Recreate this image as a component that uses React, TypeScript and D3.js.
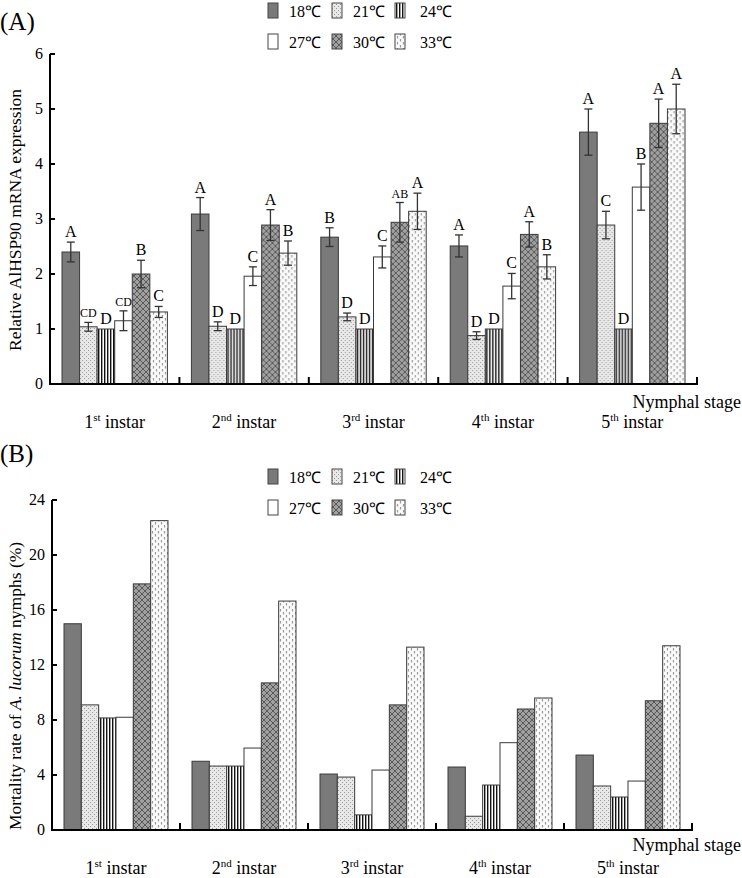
import React from 'react'
import * as d3 from 'd3'

const stages = ['1', '2', '3', '4', '5']
const stageSup = ['st', 'nd', 'rd', 'th', 'th']
const temps = ['18℃', '21℃', '24℃', '27℃', '30℃', '33℃']

// Panel A: relative expression, one row per stage, columns in temp order
const exprMean = [
  [2.4, 1.04, 1.0, 1.15, 2.0, 1.31],
  [3.09, 1.05, 1.0, 1.96, 2.89, 2.38],
  [2.67, 1.22, 1.0, 2.31, 2.94, 3.14],
  [2.51, 0.88, 1.0, 1.78, 2.72, 2.13],
  [4.58, 2.89, 1.0, 3.58, 4.74, 5.0],
]
const exprErr = [
  [0.18, 0.08, 0, 0.18, 0.25, 0.1],
  [0.3, 0.08, 0, 0.17, 0.28, 0.22],
  [0.17, 0.07, 0, 0.2, 0.36, 0.33],
  [0.2, 0.07, 0, 0.23, 0.23, 0.22],
  [0.42, 0.25, 0, 0.42, 0.44, 0.45],
]
const exprLetters = [
  ['A', 'CD', 'D', 'CD', 'B', 'C'],
  ['A', 'D', 'D', 'C', 'A', 'B'],
  ['B', 'D', 'D', 'C', 'AB', 'A'],
  ['A', 'D', 'D', 'C', 'A', 'B'],
  ['A', 'C', 'D', 'B', 'A', 'A'],
]

// Panel B: mortality rate (%)
const mortality = [
  [15.0, 9.1, 8.15, 8.2, 17.9, 22.5],
  [5.0, 4.65, 4.65, 5.96, 10.7, 16.65],
  [4.07, 3.85, 1.1, 4.36, 9.1, 13.3],
  [4.58, 1.0, 3.27, 6.35, 8.8, 9.6],
  [5.45, 3.2, 2.4, 3.56, 9.4, 13.4],
]

const ticksA = [0, 1, 2, 3, 4, 5, 6]
const ticksB = [0, 4, 8, 12, 16, 20, 24]

const fills = ['#7a7a7a', 'url(#p21)', 'url(#p24)', '#ffffff', 'url(#p30)', 'url(#p33)']
const serif = '"Liberation Serif", "Times New Roman", Times, serif'

function Legend({ top }: { top: number }) {
  const xs = [268, 332, 395]
  const tx = [289, 353, 420]
  return (
    <g>
      {temps.map((t, i) => {
        const row = Math.floor(i / 3)
        const col = i % 3
        const y = top + row * 31
        return (
          <g key={t}>
            <rect x={xs[col]} y={y} width={10} height={15} fill={fills[i]} stroke="#444" strokeWidth={1} />
            <text x={tx[col]} y={y + 14} fontSize={16}>{t}</text>
          </g>
        )
      })}
    </g>
  )
}

function Panel(props: {
  values: number[][]
  errs?: number[][]
  letters?: string[][]
  ticks: number[]
  x0: number
  x1: number
  yBase: number
  yTop: number
  label: React.ReactNode
  labelY: number
  xLabelY: number
  stageY: number
}) {
  const { values, errs, letters, ticks, x0, x1, yBase, yTop } = props
  const maxV = ticks[ticks.length - 1]
  const y = d3.scaleLinear().domain([0, maxV]).range([yBase, yTop])
  const xg = d3.scaleBand().domain(stages).range([x0, x1]).padding(0)
  const xb = d3.scaleBand().domain(temps).range([12, xg.bandwidth() - 12]).padding(0)

  return (
    <g>
      {values.map((row, gi) => (
        <g key={gi} transform={`translate(${xg(stages[gi])},0)`}>
          {row.map((v, ti) => {
            const bx = xb(temps[ti]) as number
            const w = xb.bandwidth()
            const e = errs ? errs[gi][ti] : 0
            const cx = bx + w / 2
            const topY = y(v + e)
            const lt = letters ? letters[gi][ti] : ''
            return (
              <g key={ti}>
                <rect x={bx} y={y(v)} width={w} height={yBase - y(v)} fill={fills[ti]} stroke="#3a3a3a" strokeWidth={1} />
                {errs && e > 0 && (
                  <g stroke="#333" strokeWidth={1.3}>
                    <line x1={cx} x2={cx} y1={y(v + e)} y2={y(v - e)} />
                    <line x1={cx - 4} x2={cx + 4} y1={y(v + e)} y2={y(v + e)} />
                    <line x1={cx - 4} x2={cx + 4} y1={y(v - e)} y2={y(v - e)} />
                  </g>
                )}
                {lt && (
                  <text x={cx} y={topY - 5} textAnchor="middle" fontSize={lt.length > 1 ? 12 : 16}>
                    {lt}
                  </text>
                )}
              </g>
            )
          })}
        </g>
      ))}
      {/* axes */}
      <line x1={x0} x2={x0} y1={yBase + 1} y2={yTop} stroke="#000" strokeWidth={2} />
      <line x1={x0 - 1} x2={x1 + 1} y1={yBase} y2={yBase} stroke="#000" strokeWidth={2} />
      {ticks.map(t => (
        <g key={t}>
          <line x1={x0} x2={x0 + 5} y1={y(t)} y2={y(t)} stroke="#000" strokeWidth={2} />
          <text x={x0 - 7} y={y(t) + 5} textAnchor="end" fontSize={16}>{t}</text>
        </g>
      ))}
      {stages.slice(1).concat(['end']).map((s, i) => {
        const xx = s === 'end' ? x1 : (xg(s) as number)
        return <line key={i} x1={xx} x2={xx} y1={yBase} y2={yBase - 7} stroke="#000" strokeWidth={2} />
      })}
      {stages.map((s, i) => (
        <text key={s} x={(xg(s) as number) + xg.bandwidth() / 2} y={props.stageY} textAnchor="middle" fontSize={18}>
          {s}
          <tspan fontSize={11} dy={-7}>{stageSup[i]}</tspan>
          <tspan dy={7}> instar</tspan>
        </text>
      ))}
      <text x={741} y={props.xLabelY} textAnchor="end" fontSize={18}>Nymphal stage</text>
      <text transform={`translate(21,${props.labelY}) rotate(-90)`} textAnchor="middle" fontSize={17.5}>
        {props.label}
      </text>
    </g>
  )
}

export default function App() {
  return (
    <svg
      width={742}
      height={878}
      style={{ display: 'block', position: 'absolute', left: 0, top: 0, background: '#fff', fontFamily: serif }}
    >
      <defs>
        <pattern id="p21" width={4} height={4} patternUnits="userSpaceOnUse">
          <rect width={4} height={4} fill="#e8e8e8" />
          <rect x={0} y={0} width={1} height={1} fill="#9a9a9a" />
          <rect x={2} y={2} width={1} height={1} fill="#9a9a9a" />
        </pattern>
        <pattern id="p24" width={3} height={4} patternUnits="userSpaceOnUse">
          <rect width={3} height={4} fill="#fff" />
          <rect x={0} width={1.4} height={4} fill="#111" />
        </pattern>
        <pattern id="p30" width={6} height={6} patternUnits="userSpaceOnUse">
          <rect width={6} height={6} fill="#a0a0a0" />
          <path d="M0,0 L6,6 M6,0 L0,6" stroke="#5a5a5a" strokeWidth={1} />
        </pattern>
        <pattern id="p33" width={6} height={6} patternUnits="userSpaceOnUse">
          <rect width={6} height={6} fill="#fafafa" />
          <line x1={1.5} x2={1.5} y1={0} y2={2.5} stroke="#9a9a9a" strokeWidth={1.2} />
          <line x1={4.5} x2={4.5} y1={3} y2={5.5} stroke="#9a9a9a" strokeWidth={1.2} />
        </pattern>
      </defs>
      <text x={0} y={30} fontSize={25}>(A)</text>
      <Legend top={3} />
      <Panel
        values={exprMean}
        errs={exprErr}
        letters={exprLetters}
        ticks={ticksA}
        x0={50}
        x1={697}
        yBase={384}
        yTop={54}
        label="Relative AlHSP90 mRNA expression"
        labelY={220}
        xLabelY={408}
        stageY={428}
      />
      <text x={0} y={462} fontSize={25}>(B)</text>
      <Legend top={469} />
      <Panel
        values={mortality}
        ticks={ticksB}
        x0={52}
        x1={692}
        yBase={830}
        yTop={500}
        label={<>Mortality rate of <tspan fontStyle="italic">A. lucorum</tspan> nymphs (%)</>}
        labelY={686}
        xLabelY={851}
        stageY={874}
      />
    </svg>
  )
}
